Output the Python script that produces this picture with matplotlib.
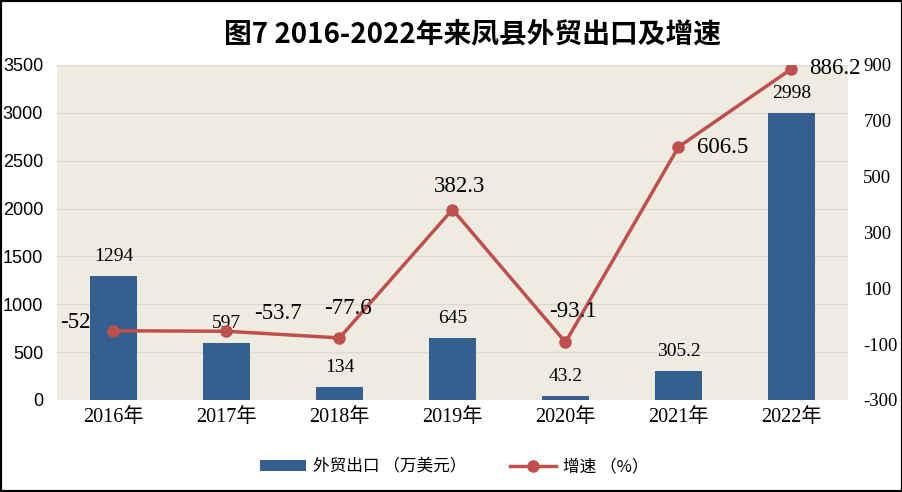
import matplotlib
matplotlib.use('Agg')
import matplotlib.pyplot as plt
from matplotlib.patches import Rectangle
import numpy as np

plt.rcParams['axes.unicode_minus'] = False

years = ['2016年', '2017年', '2018年', '2019年', '2020年', '2021年', '2022年']
export = [1294, 597, 134, 645, 43.2, 305.2, 2998]
export_labels = ['1294', '597', '134', '645', '43.2', '305.2', '2998']
growth = [-52, -53.7, -77.6, 382.3, -93.1, 606.5, 886.2]
growth_labels = ['-52', '-53.7', '-77.6', '382.3', '-93.1', '606.5', '886.2']
left_ticks = [0, 500, 1000, 1500, 2000, 2500, 3000, 3500]
right_ticks = [-300, -100, 100, 300, 500, 700, 900]

bar_color = '#355F8F'
line_color = '#C0504D'
serif = ['Liberation Serif', 'Noto Sans CJK SC']
cjk = ['Noto Sans CJK SC', 'DejaVu Sans']

# label offsets in pixels (dx, dy) from each point
offs = [(-23, 8), (51, 18), (8, 29), (7, 23), (7, 31), (44, -1), (43, 0)]
has = ['right', 'center', 'center', 'center', 'center', 'center', 'center']

fig = plt.figure(figsize=(9.03, 4.92), dpi=100)
ax = fig.add_axes([57/903, 1-400/492, 791/903, 335/492])
ax.set_facecolor('#EEEBE0')
x = np.arange(len(years))

ax.bar(x, export, width=0.41, color=bar_color, zorder=2, label='外贸出口 （万美元）')
for xi, v, t in zip(x, export, export_labels):
    ax.annotate(t, (xi, v), xytext=(0, 8), textcoords='offset points',
                ha='center', va='bottom', fontsize=14, family=serif)

ax.set_xlim(-0.5, len(years) - 0.5)
ax.set_ylim(0, 3500)
ax.set_yticks(left_ticks)
ax.set_yticklabels([str(t) for t in left_ticks], fontsize=13, family='Liberation Sans')
ax.set_xticks(x)
ax.set_xticklabels(years, fontsize=14.5, family=serif)
ax.grid(axis='y', color='#D9D9D9', lw=1, zorder=0)
ax.tick_params(axis='y', length=0, pad=10)
ax.tick_params(axis='x', length=0, pad=6)
for s in ax.spines.values():
    s.set_visible(False)

ax2 = ax.twinx()
ax2.plot(x, growth, color=line_color, lw=2.5, marker='o', ms=8, zorder=3,
         label='增速 （%）')
ax2.set_ylim(-300, 900)
ax2.set_yticks(right_ticks)
ax2.set_yticklabels([str(t) for t in right_ticks], fontsize=13.5, family=serif)
ax2.tick_params(length=0, pad=11)
for s in ax2.spines.values():
    s.set_visible(False)
for xi, v, t, (dx, dy), ha in zip(x, growth, growth_labels, offs, has):
    ax2.annotate(t, (xi, v), xytext=(dx * 0.72, dy * 0.72), textcoords='offset points',
                 ha=ha, va='center', fontsize=16.5, family=serif, zorder=4)

fig.text(0.523, 0.93, '图7 2016-2022年来凤县外贸出口及增速', ha='center', va='center',
         fontsize=20, fontweight='bold', family=cjk)

h1, l1 = ax.get_legend_handles_labels()
h2, l2 = ax2.get_legend_handles_labels()
fig.legend(h1 + h2, l1 + l2, loc='center', bbox_to_anchor=(0.503, 0.051), ncol=2,
           frameon=False, prop={'family': cjk, 'size': 12}, handlelength=2.8,
           columnspacing=2.6, handletextpad=0.4)

fig.patches.append(Rectangle((0, 0), 1, 1, transform=fig.transFigure, fill=False,
                             edgecolor='black', lw=3))

fig.savefig('out.png', dpi=100)
